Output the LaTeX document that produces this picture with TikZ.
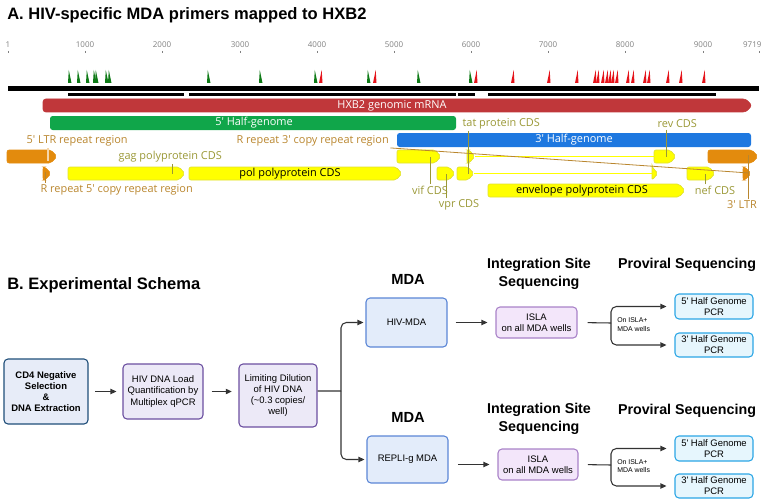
\documentclass[tikz,border=0pt]{standalone}
\usepackage{fontspec}
\setmainfont{Liberation Sans}
\newfontfamily\gfont{Open Sans}
\usepackage{tikz}
\usetikzlibrary{positioning, arrows.meta}

\definecolor{mrna}{HTML}{C0373A}
\definecolor{half5}{HTML}{10A64A}
\definecolor{half3}{HTML}{1E78E0}
\definecolor{ltr}{HTML}{E38B0D}
\definecolor{ltrtxt}{HTML}{B9862E}
\definecolor{cdstxt}{HTML}{9A9836}
\definecolor{cds}{HTML}{FFFF00}
\definecolor{cdsedge}{HTML}{E0E030}
\definecolor{prgreen}{HTML}{0E7A16}
\definecolor{prred}{HTML}{E5141B}
\definecolor{cdfill}{HTML}{E7ECF8}
\definecolor{cdedge}{HTML}{1F4E79}
\definecolor{qfill}{HTML}{ECE9F7}
\definecolor{qedge}{HTML}{6B4FA0}
\definecolor{mfill}{HTML}{E3ECFA}
\definecolor{medge}{HTML}{5B86D6}
\definecolor{ifill}{HTML}{F3E6FA}
\definecolor{iedge}{HTML}{A982C8}
\definecolor{pfill}{HTML}{E6F6FD}
\definecolor{pedge}{HTML}{2BA6E5}
\definecolor{darkline}{HTML}{333333}

\newcommand{\sq}{\textquotesingle}
% feature arrow: style, x1, x2, ytop, ybot
\newcommand{\featarrow}[5]{\filldraw[#1] (#2,#4) -- ({#3-6},#4) -- (#3,{(#4+#5)/2}) -- ({#3-6},#5) -- (#2,#5) -- cycle;}

\begin{document}
\begin{tikzpicture}[x=0.75pt,y=-0.75pt,
    >={Triangle[length=4.5pt,width=4pt]},
    title/.style={font=\bfseries\fontsize{12.4}{14}\selectfont,anchor=west,inner sep=0pt},
    tick/.style={font=\gfont\fontsize{6}{7}\selectfont,text=gray,inner sep=1pt},
    lab/.style={font=\gfont\fontsize{8.2}{9}\selectfont,inner sep=1pt},
    ltrlab/.style={lab,text=ltrtxt},
    cdslab/.style={lab,text=cdstxt},
    ltrlead/.style={ltrtxt,line width=0.6pt},
    cdslead/.style={cdstxt,line width=0.6pt},
    ltrf/.style={fill=ltr,draw=ltr,rounded corners=1.5pt},
    cdsf/.style={fill=cds,draw=cdsedge,line width=0.5pt,rounded corners=1.5pt},
    intron/.style={draw=cdsedge,double=cds,double distance=0.7pt,line width=0.3pt},
    box/.style={draw,rounded corners=3pt,line width=0.8pt,align=center,inner sep=1pt,
      font=\fontsize{7.1}{8.3}\selectfont},
    hdr/.style={font=\bfseries\fontsize{10.7}{13.5}\selectfont,align=center},
    arr/.style={->,darkline,line width=0.8pt},
    line/.style={darkline,line width=0.8pt}
  ]
  \useasboundingbox (0,0) rectangle (764,503);

  % ---------- A: genome map ----------
  \node[title] (titleA) at (7,15) {A. HIV-specific MDA primers mapped to HXB2};

  % axis ticks
  \foreach \x/\t in {8/1,85/1000,162/2000,240/3000,317/4000,394/5000,471/6000,548/7000,625/8000,703/9000}{
    \node[tick] at (\x,45) {\t};
    \draw[gray,line width=0.5pt] (\x,51) -- (\x,53);
  }
  \node[tick,anchor=east] at (763,45) {9719};
  \draw[gray,line width=0.5pt] (759,51) -- (759,53);

  % primers
  \foreach \x in {68,77,86,93,95,105,108,207,259,314,367,417,469}
    \fill[prgreen] (\x,83) -- (\x+3.5,83) -- (\x+0.8,70) -- cycle;
  \foreach \x in {319,373,474,511,547,575,593,596,601,605,608,611,615,626,631,643,647,666,679,702}
    \fill[prred] (\x,83) -- (\x+3.5,83) -- (\x+2.7,70) -- cycle;

  % genome and amplicons
  \fill[black] (8,86.5) rectangle (759,91);
  \foreach \a/\b in {68/184,189/456,458/475,488/716}
    \fill[black] (\a,93.5) rectangle (\b,96);

  % genomic mRNA and half-genomes
  \featarrow{fill=mrna,draw=mrna,rounded corners=2pt}{43}{752}{99}{112}
  \node[lab,text=white] (mrna) at (392,105.5) {HXB2 genomic mRNA};
  \fill[half5,rounded corners=2pt] (50,116) rectangle (456,130);
  \node[lab,text=white] (half5) at (254,123) {5\sq\ Half-genome};
  \fill[half3,rounded corners=2pt] (397,133) rectangle (751,147);
  \node[lab,text=white] (half3) at (574,140) {3\sq\ Half-genome};

  % LTRs and R repeats
  \featarrow{ltrf}{7}{57}{150}{163}
  \featarrow{ltrf}{708}{758}{150}{163}
  \featarrow{ltrf}{43}{51}{167}{180}
  \featarrow{ltrf}{743}{751}{167}{180}

  % CDS features
  \featarrow{cdsf}{68}{185}{167}{180}
  \featarrow{cdsf}{189}{402}{167}{180}
  \node[lab] (pol) at (290,173.5) {pol polyprotein CDS};
  \featarrow{cdsf}{397}{441}{150}{163}
  \featarrow{cdsf}{437}{455}{167}{180}
  \draw[intron] (474,173.5) -- (652,173.5);
  \featarrow{cdsf}{457}{474}{167}{180}
  \featarrow{cdsf}{652}{658}{167}{180}
  \draw[intron] (475,156.5) -- (654,156.5);
  \featarrow{cdsf}{467}{475}{150}{163}
  \featarrow{cdsf}{654}{676}{150}{163}
  \featarrow{cdsf}{687}{715}{167}{180}
  \featarrow{cdsf}{488}{685}{184}{197}
  \node[lab] (env) at (582,190.5) {envelope polyprotein CDS};

  % feature labels
  \node[ltrlab,anchor=west] (ltr5lab) at (25,141) {5\sq\ LTR repeat region};
  \node[ltrlab,anchor=west] (r3lab) at (235,141) {R repeat 3\sq\ copy repeat region};
  \node[ltrlab,anchor=west] (r5lab) at (39,190) {R repeat 5\sq\ copy repeat region};
  \node[ltrlab] (ltr3lab) at (742,205) {3\sq\ LTR};
  \node[cdslab,anchor=west] (gaglab) at (117,157) {gag polyprotein CDS};
  \node[cdslab,anchor=west] (tatlab) at (461,124) {tat protein CDS};
  \node[cdslab,anchor=west] (revlab) at (656,124) {rev CDS};
  \node[cdslab] (viflab) at (430,190) {vif CDS};
  \node[cdslab] (vprlab) at (459,205) {vpr CDS};
  \node[cdslab] (neflab) at (715,190) {nef CDS};

  % lead lines
  \coordinate (ltr5pt) at (48,161);
  \coordinate (r5pt) at (45,172);
  \coordinate (r3pt) at (749,173);
  \coordinate (ltr3pt) at (748,155);
  \coordinate (gagpt) at (172,174);
  \coordinate (vifpt) at (430,157);
  \coordinate (vprpt) at (446,174);
  \coordinate (tatpt) at (468,174);
  \coordinate (revpt) at (666,157);
  \coordinate (nefpt) at (705,174);
  \draw[ltr!35!white,line width=1pt] (ltr5pt |- ltr5lab.south) -- (ltr5pt);
  \draw[ltrlead] (r5pt |- r5lab.north) -- (r5pt);
  \draw[ltrlead] (r3lab.south east) -- (r3pt);
  \draw[ltrlead] (ltr3pt |- ltr3lab.north) -- (ltr3pt);
  \draw[cdslead] (gagpt |- gaglab.south) -- (gagpt);
  \draw[cdslead] (viflab.north) -- (vifpt);
  \draw[cdslead] (vprpt |- vprlab.north) -- (vprpt);
  \draw[cdslead] (tatpt |- tatlab.south) -- (tatpt);
  \draw[cdslead] (revpt |- revlab.south) -- (revpt);
  \draw[cdslead] (nefpt |- neflab.north) -- (nefpt);

  % ---------- B: experimental schema ----------
  \node[title] (titleB) at (7,285) {B. Experimental Schema};

  % first steps
  \node[box,fill=cdfill,draw=cdedge,minimum width=63pt,minimum height=48.75pt,font=\bfseries\fontsize{7.1}{8.3}\selectfont]
    (cd4) at (46,391.5) {CD4 Negative\\Selection\\\&\\DNA Extraction};
  \node[box,fill=qfill,draw=qedge,minimum width=60pt,minimum height=41.25pt]
    (load) at (163,391.5) {HIV DNA Load\\Quantification by\\Multiplex qPCR};
  \node[box,fill=qfill,draw=qedge,minimum width=58.5pt,minimum height=47.25pt]
    (limdil) at (278,395.5) {Limiting Dilution\\of HIV DNA\\(\textasciitilde0.3 copies/\\well)};

  % MDA
  \node[hdr,font=\bfseries\fontsize{11}{13}\selectfont] (mdahdr1) at (408,279) {MDA};
  \node[hdr,font=\bfseries\fontsize{11}{13}\selectfont] (mdahdr2) at (408,417) {MDA};
  \node[box,fill=mfill,draw=medge,minimum width=60.75pt,minimum height=36.75pt]
    (hivmda) at (406.5,322.5) {HIV-MDA};
  \node[box,fill=mfill,draw=medge,minimum width=60.75pt,minimum height=35.25pt]
    (replig) at (407.5,459.5) {REPLI-g MDA};

  % integration site sequencing
  \node[hdr] (ishdr1) at (539,274) {Integration Site\\Sequencing};
  \node[hdr] (ishdr2) at (539,419) {Integration Site\\Sequencing};
  \node[box,fill=ifill,draw=iedge,minimum width=60.75pt,minimum height=23.25pt]
    (isla1) at (536.5,322.5) {ISLA\\on all MDA wells};
  \node[box,fill=ifill,draw=iedge,minimum width=60pt,minimum height=23.25pt]
    (isla2) at (538,464.5) {ISLA\\on all MDA wells};

  % proviral sequencing
  \node[hdr] (pvhdr1) at (687,265) {Proviral Sequencing};
  \node[hdr] (pvhdr2) at (687,411) {Proviral Sequencing};
  \node[box,fill=pfill,draw=pedge,minimum width=58.5pt,minimum height=18.75pt]
    (pcr5a) at (714,306.5) {5\sq\ Half Genome\\PCR};
  \node[box,fill=pfill,draw=pedge,minimum width=58.5pt,minimum height=18pt]
    (pcr3a) at (714,345) {3\sq\ Half Genome\\PCR};
  \node[box,fill=pfill,draw=pedge,minimum width=58.5pt,minimum height=18.75pt]
    (pcr5b) at (714,448.5) {5\sq\ Half Genome\\PCR};
  \node[box,fill=pfill,draw=pedge,minimum width=58.5pt,minimum height=18pt]
    (pcr3b) at (714,486) {3\sq\ Half Genome\\PCR};

  % arrows
  \draw[arr,shorten <=5pt,shorten >=4.5pt] (cd4.east) -- (load.west);
  \draw[arr,shorten <=6pt,shorten >=5pt] (load.east) -- (load.east -| limdil.west);
  \coordinate (split) at (341,391);
  \draw[line] ([yshift=3.4pt]limdil.east) -- (split);
  \draw[arr,rounded corners=4pt,shorten >=1.5pt] (split) |- (hivmda.west);
  \draw[arr,rounded corners=4pt,shorten >=1.5pt] (split) |- (replig.west);
  \draw[arr,shorten <=6pt,shorten >=6pt] (hivmda.east) -- (isla1.west);
  \draw[arr,shorten <=7pt,shorten >=6pt] (isla2.west -| replig.east) -- (isla2.west);

  % ISLA+ branches
  \coordinate (fork1) at (611,323);
  \coordinate (fork2) at (611,465);
  \draw[line,shorten <=7.5pt] (isla1.east) -- (fork1);
  \draw[arr,rounded corners=4pt,shorten >=6pt] (fork1) |- (pcr5a.west);
  \draw[arr,rounded corners=4pt,shorten >=6pt] (fork1) |- (pcr3a.west);
  \draw[line,shorten <=7pt] (isla2.east) -- (fork2);
  \draw[arr,rounded corners=4pt,shorten >=6pt] (fork2) |- (pcr5b.west);
  \draw[arr,rounded corners=4pt,shorten >=6pt] (fork2) |- (pcr3b.west);
  \node[font=\fontsize{5.2}{6.5}\selectfont,align=left,anchor=west,inner sep=0pt] (on1) at (617,324.5) {On ISLA+\\MDA wells};
  \node[font=\fontsize{5.2}{6.5}\selectfont,align=left,anchor=west,inner sep=0pt] (on2) at (617,466) {On ISLA+\\MDA wells};

\end{tikzpicture}
\end{document}
